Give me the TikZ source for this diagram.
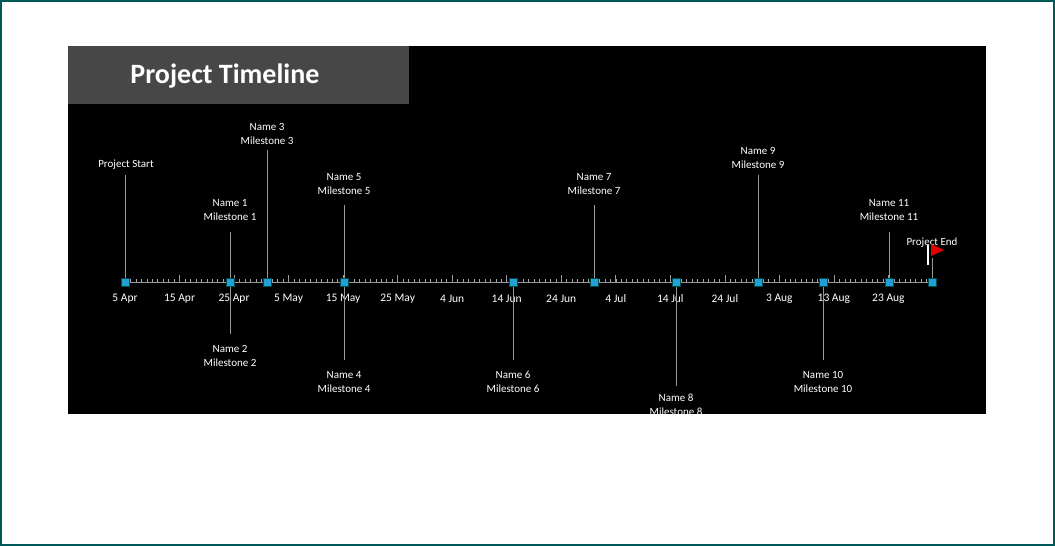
\documentclass[tikz,border=0pt]{standalone}
\usepackage{fontspec}
\setmainfont{Carlito}
\begin{document}
\begin{tikzpicture}[x=1pt,y=-1pt,
  lbl/.style={text=white,font=\fontsize{11}{14}\selectfont,align=center,inner sep=0pt},
  dlbl/.style={text=white,font=\fontsize{11.5}{14}\selectfont,inner sep=0pt},
  mk/.style={fill=cyan!70!teal,draw=teal!60!black,minimum size=8pt,inner sep=0pt,line width=0.6pt},
  stem/.style={draw=gray!80,line width=0.8pt}]
\useasboundingbox (0,0) rectangle (1055,546);
\draw[draw=teal!70!black,line width=1.5pt] (1,1) rectangle (1054,545);
\fill[black] (68,46) rectangle (986,414);
\fill[black!72] (68,46) rectangle (409,104);
\node[text=white,font=\bfseries\fontsize{28}{32}\selectfont] (title) at (225,76) {Project Timeline};
% axis
\coordinate (a0) at (125,282);
\coordinate (a1) at (932,282);
\draw[gray!80,line width=0.8pt] (a0) -- (a1);
\foreach \i in {0,...,148} {\draw[gray!70,line width=0.5pt] (125+\i*5.453,282) -- (125+\i*5.453,278.5);}
\foreach \i/\t in {0/5 Apr,1/15 Apr,2/25 Apr,3/5 May,4/15 May,5/25 May,6/4 Jun,7/14 Jun,8/24 Jun,9/4 Jul,10/14 Jul,11/24 Jul,12/3 Aug,13/13 Aug,14/23 Aug} {
  \draw[gray!80,line width=0.6pt] (125+\i*54.53,282) -- (125+\i*54.53,275);
  \node[dlbl] at (125+\i*54.53,299) {\t};}
\begin{scope}
\clip (68,46) rectangle (986,414);
% stems and labels
\node[lbl] (ps) at (126,165) {Project Start};
\node[lbl] (l1) at (230,210) {Name 1\\Milestone 1};
\node[lbl] (l2) at (230,356) {Name 2\\Milestone 2};
\node[lbl] (l3) at (267,134) {Name 3\\Milestone 3};
\node[lbl] (l4) at (344,382) {Name 4\\Milestone 4};
\node[lbl] (l5) at (344,184) {Name 5\\Milestone 5};
\node[lbl] (l6) at (513,382) {Name 6\\Milestone 6};
\node[lbl] (l7) at (594,184) {Name 7\\Milestone 7};
\node[lbl] (l8) at (676,405) {Name 8\\Milestone 8};
\node[lbl] (l9) at (758,158) {Name 9\\Milestone 9};
\node[lbl] (l10) at (823,382) {Name 10\\Milestone 10};
\node[lbl] (l11) at (889,210) {Name 11\\Milestone 11};
\node[lbl] (pe) at (932,243) {Project End};
\end{scope}
\coordinate (s0) at (125,175); \coordinate (m0) at (125,282);
\coordinate (s1) at (230,232); \coordinate (m1) at (230,282);
\coordinate (s2) at (230,334); 
\coordinate (s3) at (267,150); \coordinate (m3) at (267,282);
\coordinate (s4) at (344,360); \coordinate (m4) at (344,282);
\coordinate (s5) at (344,205);
\coordinate (s6) at (513,360); \coordinate (m6) at (513,282);
\coordinate (s7) at (594,205); \coordinate (m7) at (594,282);
\coordinate (s8) at (676,386); \coordinate (m8) at (676,282);
\coordinate (s9) at (758,175); \coordinate (m9) at (758,282);
\coordinate (s10) at (823,360); \coordinate (m10) at (823,282);
\coordinate (s11) at (889,232); \coordinate (m11) at (889,282);
\coordinate (s12) at (932,258); \coordinate (m12) at (932,282);
\foreach \s/\m in {s0/m0,s1/m1,s2/m1,s3/m3,s4/m4,s5/m4,s6/m6,s7/m7,s8/m8,s9/m9,s10/m10,s11/m11,s12/m12}
  \draw[stem] (\s) -- (\m);
\foreach \m in {m0,m1,m3,m4,m6,m7,m8,m9,m10,m11,m12}
  \node[mk] at (\m) {};
% flag
\draw[white,line width=2.5pt] (928,245) -- (928,265);
\fill[red!90!black] (931,244) -- (944,250) -- (931,256) -- cycle;
\end{tikzpicture}
\end{document}
